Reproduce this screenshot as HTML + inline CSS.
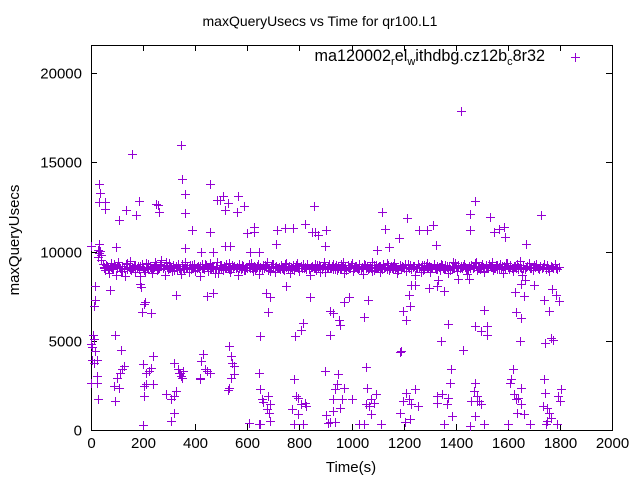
<!DOCTYPE html>
<html><head><meta charset="utf-8"><style>
body{margin:0;background:#fff}
svg{display:block;font-family:"Liberation Sans",sans-serif}
</style></head><body>
<svg id="chart" width="640" height="480" viewBox="0 0 640 480" xmlns="http://www.w3.org/2000/svg">
<rect width="640" height="480" fill="#fff"/>
<text x="320" y="26" font-size="14" text-anchor="middle">maxQueryUsecs vs Time for qr100.L1</text>
<text x="351" y="472" font-size="15" text-anchor="middle">Time(s)</text>
<text transform="translate(19,240) rotate(-90)" font-size="15" text-anchor="middle">maxQueryUsecs</text>
<g id="axes"></g>
<g id="points"></g>
<g>
<text x="545" y="61" font-size="16.2" text-anchor="end">ma120002<tspan font-size="11" dy="4">r</tspan><tspan dy="-4">el</tspan><tspan font-size="11" dy="4">w</tspan><tspan dy="-4">ithdbg.cz12b</tspan><tspan font-size="11" dy="4">c</tspan><tspan dy="-4">8r32</tspan></text>
<path d="M571,57.5h9M575.5,53v9" stroke="#9400d3" stroke-width="1"/>
</g>
</svg>
<script>
const xTicks=[0,200,400,600,800,1000,1200,1400,1600,1800,2000];
const yTicks=[0,5000,10000,15000,20000];
const bandStart=25, bandStep=5;
const bandValues=[10100,9900,10050,9800,9300,9150,8950,9200,9050,8800,9350,9100,9000,9250,8700,9150,9400,9050,8900,9200,
9100,8650,9300,9000,9150,9450,8950,9100,9250,8850,9050,9200,9000,8600,9300,9150,8950,9350,9100,9000,
9200,9050,8800,9150,9400,9250,8950,9100,9300,9500,9050,9200,8700,9150,9000,9350,9100,8900,9250,9050,
9150,8950,9300,9000,8750,9200,9100,9400,9050,9150,8850,9250,9000,9100,9300,8950,9150,9200,9050,8600,
9300,9100,9000,9250,9150,8900,9350,9050,9200,9100,8800,9150,9400,9000,9250,9100,8950,9200,9050,9300,
9150,9000,8850,9250,9100,9200,9050,9150,8700,9300,9000,9100,9200,8950,9150,9050,9250,9100,9350,8900,
9200,9050,9100,9300,8750,9150,9000,9250,9100,9200,9400,8950,9050,9150,9300,9100,8850,9200,9050,9150,
9000,9250,9100,8950,9300,9150,9050,9200,8800,9100,9250,9000,9150,9350,9050,8900,9200,9100,9300,9150,
9000,9250,9050,8700,9150,9200,9100,9300,8950,9050,9250,9150,9000,9200,9400,8850,9100,9150,9300,9050,
9200,9000,9150,9250,8950,9100,9050,9300,9200,8800,9150,9000,9250,9100,9050,9350,8900,9150,9200,9100,
9000,9300,9050,9150,8750,9250,9100,9200,9000,9150,9050,9400,8950,9100,9250,9150,9200,8850,9050,9300,
9100,9150,9000,9250,8950,9200,9100,9050,9350,9150,8800,9000,9250,9100,9200,9050,9300,8900,9150,9100,
9250,9000,9150,9200,8700,9050,9300,9100,9150,9250,8950,9000,9200,9350,9100,8850,9150,9050,9250,9100,
9000,9200,9150,8950,9300,9100,9050,9250,9150,8800,9200,9000,9100,9400,9050,9150,8900,9250,9100,9200,
9050,9300,9150,9000,8750,9200,9100,9250,9050,9150,9350,8950,9100,9200,9000,9300,9150,8850,9250,9100,
9050,9200,9150,9400,8950,9100,9250,9000,9150,9300,9050,8800,9200,9100,9350,9150,9000,9250,9100,8900,
9200,9050,9300,9150,9450,9100,8700,9250,9000,9150,9200,9350,9050,9100,8950,9250,9150,9300,9100,9000,
9200,9050,9150,9300,9000,9250,9100,8900,9200,9150,9050,9300,9100,9000,9150];
const band2Start=28, band2Step=10;
const band2Values=[9700,9500,9100,9250,8950,9150,9300,9050,9200,8900,9100,9350,9000,9150,9250,9050,9200,9100,8850,9300,
9150,9050,9200,9000,9250,9100,9400,9050,9150,8950,9200,9100,9300,9000,9150,9050,9250,8900,9100,9200,
9050,9300,9150,9000,9200,9100,8800,9250,9050,9150,9350,9000,9200,9100,9050,9250,8950,9150,9300,9100,
9000,9200,9150,9050,9250,9100,8900,9300,9150,9050,9200,9000,9350,9100,9150,8950,9250,9050,9200,9100,
9300,9000,9150,9050,9250,8850,9100,9200,9150,9050,9300,9000,9200,9100,9400,8950,9150,9250,9050,9200,
9100,9000,9300,9150,9050,8900,9250,9100,9200,9000,9150,9350,9050,9200,9100,8950,9250,9150,9050,9300,
9000,9200,9100,9150,8850,9250,9050,9200,9100,9300,9000,9150,9250,9050,9200,8950,9100,9350,9150,9050,
9200,9100,9000,9250,9150,9400,9050,9200,8900,9100,9300,9150,9050,9250,9000,9200,9100,9350,9150,9050,
9200,9000,9150,9100];
const outTimes=[1422,347,158,349,29,455,35,362,505,565,483,496,29,52,184,249,256,526,587,1473,516,262,55,135,857,561,171,362,1119,1453,1726,1214,106,1531,823,1314,743,775,714,386,626,626,600,457,847,860,873,903,1130,1260,1288,1453,1548,1568,1587,1591,1184,1323,710,1669,0,31,97,516,532,899,610,643,422,360,1096,1145,470,
16,74,187,191,327,447,470,749,840,688,671,990,970,1064,1219,1230,1243,1297,1327,1357,1331,1409,1450,1629,1661,1652,1665,1700,1739,1769,1784,1795,16,13,208,204,195,232,678,918,929,951,957,814,805,782,1048,1197,1208,1226,1510,1474,1496,1519,1519,1630,1652,1645,1760,1743,1766,1773,1369,1344,1427,648,918,91,1188,1190,0,6,10,3,
3,10,22,0,16,22,26,22,87,100,113,120,107,126,117,91,198,211,224,230,237,204,211,237,204,200,288,307,320,327,307,320,320,333,340,346,353,339,349,420,430,423,436,447,456,420,530,530,536,542,549,539,549,527,646,646,650,656,662,675,681,688,685,688,643,650,606,
781,794,787,807,820,826,781,794,814,771,911,930,937,944,950,963,957,970,898,930,904,937,918,1000,1030,1048,1054,1061,1074,1087,1094,1067,1054,1074,1113,1204,1211,1220,1230,1243,1256,1197,1188,1223,1327,1346,1372,1366,1379,1382,1385,1355,1327,1457,1470,1476,1483,1489,1499,1483,1476,1509,1453,1601,1619,1612,1625,1638,1632,1652,1652,1610,1636,1661,1687,1735,1739,1742,1752,1759,1765,1752,1788,1791,1800,1806,1745];
const outValues=[17870,15980,15480,14040,13760,13760,13300,13200,13110,13110,12890,12890,12780,12780,12830,12650,12610,12740,12560,12830,12330,12240,12370,12330,12560,12220,12060,12150,12220,12090,12060,11870,11760,11940,11540,11500,11310,11310,11200,11200,11350,11110,11040,11090,11110,11070,10940,11200,11260,11200,11200,11200,11110,11260,11390,10830,10760,10370,10430,10430,10330,10430,10280,10330,10330,10330,10000,10000,10000,10190,10090,10280,9960,
8060,7870,8200,8020,7590,7500,7700,8060,7460,7460,7650,7460,7190,7280,7590,8110,8110,7930,8060,7780,8390,8480,8480,7750,7500,8200,8390,8110,7280,7900,7550,7200,7280,6940,7190,7060,6590,6540,6590,6670,6540,6170,5890,6020,5610,5240,6350,6670,6170,6960,6720,5800,5560,5800,5330,6590,6300,5000,6670,4870,5150,5060,5930,5000,4500,5280,5330,5330,4370,4400,4800,5300,5100,4650,
3940,3760,3020,2650,4410,2650,1720,3900,2460,2930,3200,3390,2370,3570,4500,1630,3670,3200,3300,3480,4170,2460,2560,2560,1910,280,2000,1720,1910,2190,520,930,3760,3390,3200,3020,3300,3200,2930,2830,4280,3850,3390,3300,3200,2930,2370,4690,4130,3760,3570,2930,3110,2220,330,3200,2310,1760,1570,1200,1910,1440,930,520,330,330,370,330,
1810,1910,1440,1540,1350,2830,890,330,1170,370,1720,2280,2560,3110,1720,1260,2370,3300,1070,830,430,430,1720,330,330,3540,2370,1720,1540,2000,1350,1440,890,330,430,2090,1720,1440,2280,1350,1630,980,610,1910,2000,1810,1440,2650,3390,800,330,1540,1630,2190,2650,1910,1630,1440,1630,800,330,240,330,3430,2870,2000,1810,1720,1440,2370,2650,980,890,330,1350,2870,2090,1260,980,700,520,330,1910,1630,2280,330,800];

const X0=91, X1=612, Y0=430, Y1=45;
const xScale=t=>X0+(t/2000)*(X1-X0);
const yScale=v=>Y0-(v/20000)*(Y0-73);
const NS='http://www.w3.org/2000/svg';
const axes=document.getElementById('axes');
const frame=document.createElementNS(NS,'rect');
frame.setAttribute('x',X0+0.5);frame.setAttribute('y',Y1+0.5);frame.setAttribute('width',X1-X0);frame.setAttribute('height',Y0-Y1);
frame.setAttribute('fill','none');frame.setAttribute('stroke','#000');frame.setAttribute('stroke-width','1');


axes.appendChild(frame);
xTicks.forEach(t=>{
  const x=Math.round(xScale(t))+0.5;
  const p=document.createElementNS(NS,'path');
  p.setAttribute('d',`M${x},${Y0}v-6M${x},${Y1}v6`);p.setAttribute('stroke','#000');
  
  
  axes.appendChild(p);
  const tx=document.createElementNS(NS,'text');
  tx.setAttribute('x',x);tx.setAttribute('y',448);tx.setAttribute('font-size','15');tx.setAttribute('text-anchor','middle');
  tx.textContent=t;
  
  
  axes.appendChild(tx);
});
yTicks.forEach(v=>{
  const y=Math.round(yScale(v))+0.5;
  const p=document.createElementNS(NS,'path');
  p.setAttribute('d',`M${X0},${y}h6M${X1},${y}h-6`);p.setAttribute('stroke','#000');
  
  
  axes.appendChild(p);
  const tx=document.createElementNS(NS,'text');
  tx.setAttribute('x',82);tx.setAttribute('y',y+5);tx.setAttribute('font-size','15');tx.setAttribute('text-anchor','end');
  tx.textContent=v;
  
  
  axes.appendChild(tx);
});
const pts=document.getElementById('points');
let d='';
const mark=(t,v)=>{const x=Math.round(xScale(t))+0.5,y=Math.round(yScale(v))+0.5;d+=`M${x-4.5},${y}h9M${x},${y-4.5}v9`;};
bandValues.forEach((v,i)=>mark(bandStart+i*bandStep,v));
band2Values.forEach((v,i)=>mark(band2Start+i*band2Step,v));
outTimes.forEach((t,i)=>mark(t,outValues[i]));
const path=document.createElementNS(NS,'path');
path.setAttribute('d',d);path.setAttribute('stroke','#9400d3');path.setAttribute('stroke-width','1');path.setAttribute('fill','none');


pts.appendChild(path);
</script>
</body></html>
